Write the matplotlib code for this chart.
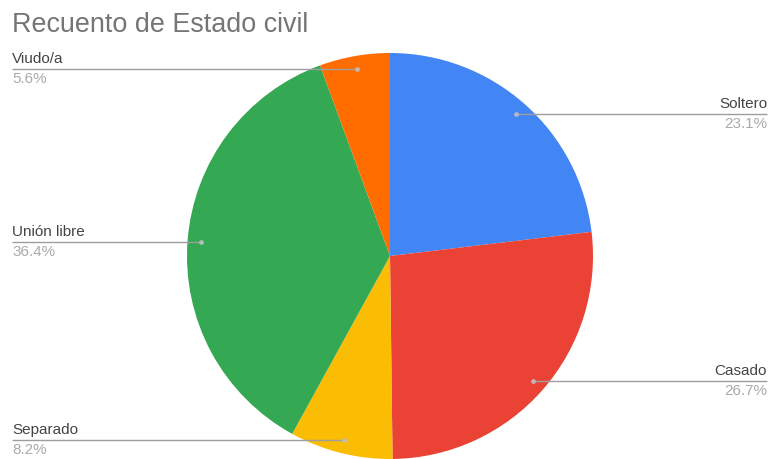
import numpy as np
import matplotlib
matplotlib.use("Agg")
import matplotlib.pyplot as plt

plt.rcParams["font.family"] = ["Liberation Sans", "DejaVu Sans"]

# Recuento de Estado civil
categorias = ["Soltero", "Casado", "Separado", "Unión libre", "Viudo/a"]
porcentajes = [23.1, 26.7, 8.2, 36.4, 5.6]
colores = ["#4285F4", "#EA4335", "#FBBC04", "#34A853", "#FF6D01"]
lado = ["right", "right", "left", "left", "left"]

W, H = 772, 459
fig = plt.figure(figsize=(W / 100, H / 100), dpi=100)
ax = fig.add_axes([0, 0, 1, 1])

cx, cy, R = 390, H - 256, 203
ax.pie(porcentajes, colors=colores, startangle=90, counterclock=False,
       center=(cx, cy), radius=R, frame=True,
       wedgeprops=dict(linewidth=0))

ax.set_xlim(0, W)
ax.set_ylim(0, H)
ax.set_aspect("equal")
ax.axis("off")

# etiquetas con líneas guía
acum = 0
for nombre, p, l in zip(categorias, porcentajes, lado):
    medio = (acum + p / 2) / 100 * 360
    acum += p
    ang = np.deg2rad(90 - medio)
    px = cx + 0.935 * R * np.cos(ang)
    py = cy + 0.935 * R * np.sin(ang)
    if l == "left":
        x0, ha = 12, "left"
    else:
        x0, ha = 767, "right"
    ax.plot([x0, px], [py, py], color="#9e9e9e", lw=1, solid_capstyle="butt")
    ax.plot(px, py, "o", ms=2.5, color="#c0c0c0", alpha=0.8)
    ax.text(x0, py + 3, nombre, ha=ha, va="bottom", fontsize=11,
            color="#444444")
    ax.text(x0, py - 3, f"{p}%", ha=ha, va="top", fontsize=11,
            color="#aaaaaa")

fig.text(12 / W, 1 - 25 / H, "Recuento de Estado civil", ha="left",
         va="center", fontsize=19.4, color="#757575")

fig.savefig("out.png", dpi=100)
